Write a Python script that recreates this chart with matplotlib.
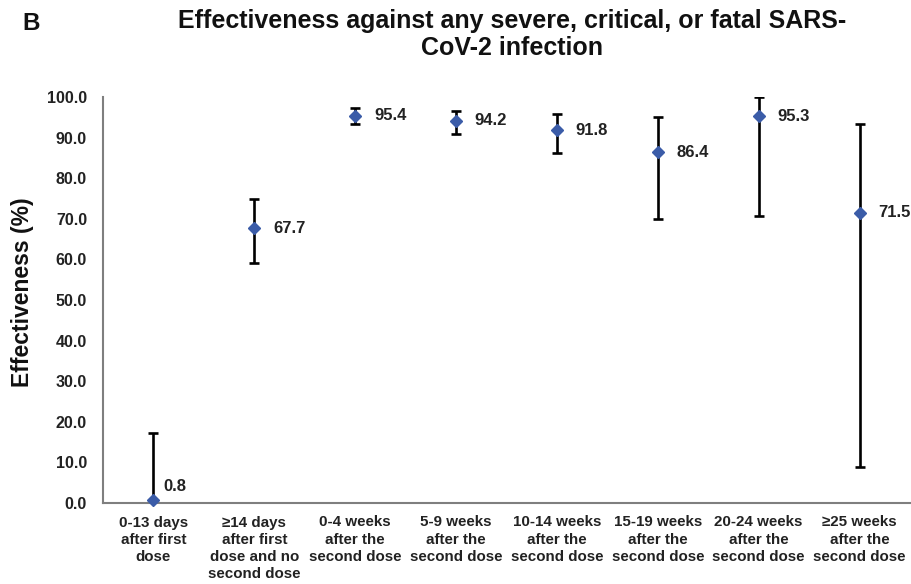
import matplotlib
matplotlib.use("Agg")
import matplotlib.pyplot as plt
import numpy as np

plt.rcParams['font.family'] = ['Liberation Sans', 'DejaVu Sans']

categories = [
    "0-13 days\nafter first\ndose",
    "\u226514 days\nafter first\ndose and no\nsecond dose",
    "0-4 weeks\nafter the\nsecond dose",
    "5-9 weeks\nafter the\nsecond dose",
    "10-14 weeks\nafter the\nsecond dose",
    "15-19 weeks\nafter the\nsecond dose",
    "20-24 weeks\nafter the\nsecond dose",
    "\u226525 weeks\nafter the\nsecond dose",
]
effectiveness = [0.8, 67.7, 95.4, 94.2, 91.8, 86.4, 95.3, 71.5]
ci_lower = [-20.0, 59.2, 93.3, 91.0, 86.1, 70.0, 70.7, 8.9]
ci_upper = [17.3, 74.8, 97.2, 96.6, 95.8, 95.0, 99.9, 93.3]
yticks = [0, 10, 20, 30, 40, 50, 60, 70, 80, 90, 100]

W, H = 912, 584
fig = plt.figure(figsize=(W / 100, H / 100), dpi=100)
ax = fig.add_axes([103 / W, 1 - 503 / H, (910 - 103) / W, (503 - 97) / H])

x = np.arange(len(categories))
eff = np.array(effectiveness)
err = np.vstack([eff - np.array(ci_lower), np.array(ci_upper) - eff])

ax.errorbar(x, eff, yerr=err, fmt='none', ecolor='black', elinewidth=1.9,
            capsize=3.5, capthick=1.9, zorder=2)
ax.plot(x, eff, linestyle='none', marker='D', markersize=6.3, color='#3b5ca8',
        zorder=3, clip_on=False)

for i, v in enumerate(effectiveness):
    if i == 0:
        ax.annotate(f"{v:.1f}", (x[i], v), xytext=(7, 9.5), textcoords='offset points',
                    ha='left', va='center', fontsize=12, fontweight='bold', color='#222222')
    else:
        ax.annotate(f"{v:.1f}", (x[i], v), xytext=(13.5, 0), textcoords='offset points',
                    ha='left', va='center', fontsize=12, fontweight='bold', color='#222222')

ax.set_xlim(-0.5, len(categories) - 0.5)
ax.set_ylim(0, 100)
ax.set_yticks(yticks)
ax.set_yticklabels([f"{t:.1f}" for t in yticks], fontsize=11.5, fontweight='bold', color='#222222')
ax.set_xticks(x)
ax.set_xticklabels(categories, fontsize=10.9, fontweight='bold', color='#222222',
                   linespacing=1.28, va='top')
ax.tick_params(axis='both', length=0)
ax.tick_params(axis='y', pad=11.5)
ax.tick_params(axis='x', pad=9)

for s in ['top', 'right']:
    ax.spines[s].set_visible(False)
for s in ['left', 'bottom']:
    ax.spines[s].set_color('#7f7f7f')
    ax.spines[s].set_linewidth(1.5)

fig.text(23 / W, 1 - 292 / H, "Effectiveness (%)", rotation=90, ha='center', va='center',
         fontsize=16.5, fontweight='bold', color='#111111')

fig.text(512 / W, 1 - 28 / H, "Effectiveness against any severe, critical, or fatal SARS-",
         ha='center', va='baseline', fontsize=18, fontweight='bold', color='#111111')
fig.text(512 / W, 1 - 55 / H, "CoV-2 infection",
         ha='center', va='baseline', fontsize=18, fontweight='bold', color='#111111')
fig.text(22 / W, 1 - 30 / H, "B", ha='left', va='baseline', fontsize=17.5,
         fontweight='bold', color='#111111')

fig.savefig("out.png", dpi=100)
